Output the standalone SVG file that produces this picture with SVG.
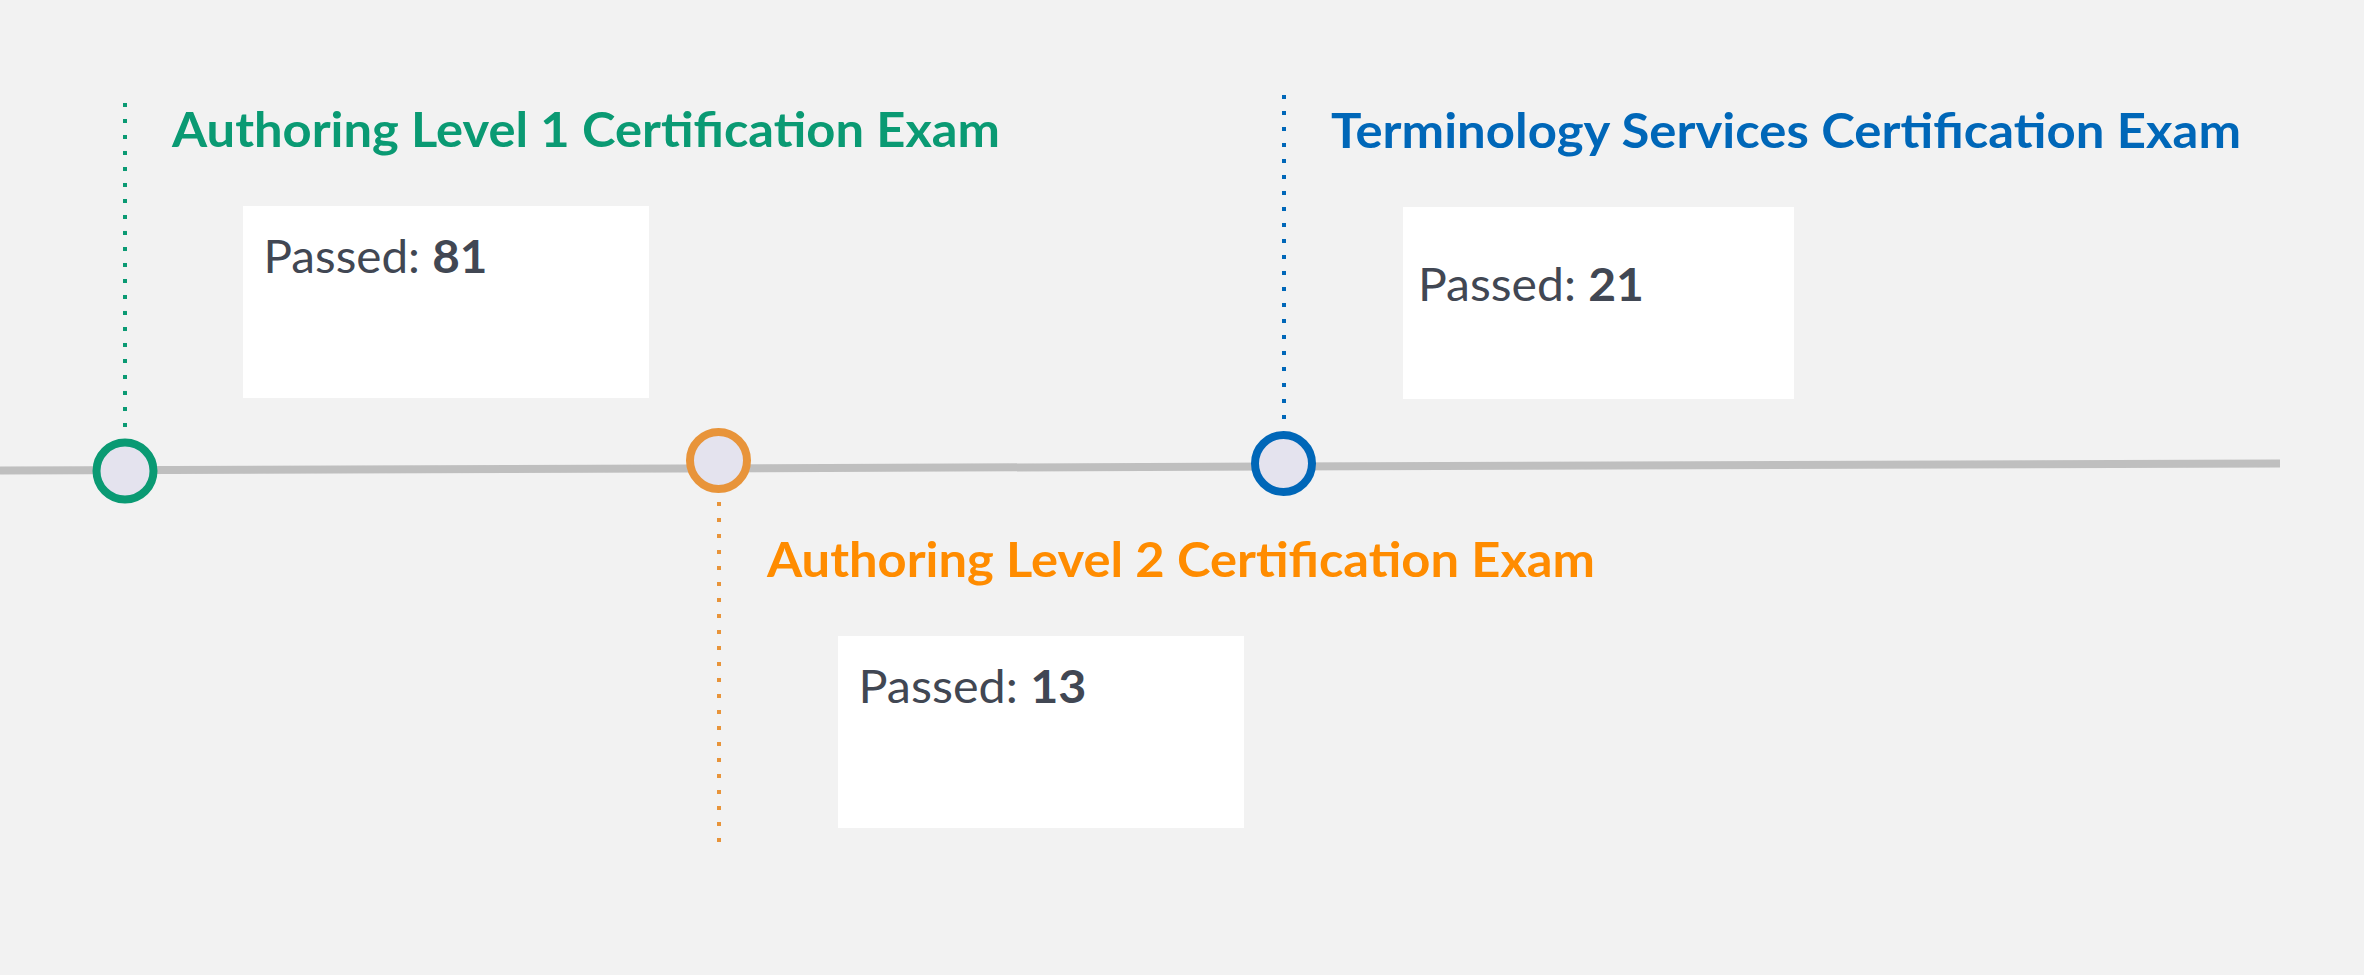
<svg xmlns="http://www.w3.org/2000/svg" width="2364" height="975" viewBox="0 0 2364 975">
<style>
.title{font-family:Lato,"Open Sans",sans-serif;font-weight:700;font-size:48px}
.pass{font-family:Lato,"Open Sans",sans-serif;font-size:46px;fill:#414753}
.num{font-weight:700}
.box{fill:#ffffff}
.dot{stroke-width:4;stroke-dasharray:4 12;fill:none}
.node{fill:#E4E3EE;stroke-width:8}
</style>
<rect width="2364" height="975" fill="#F2F2F2"/>
<g id="connectors">
<line x1="0" y1="470.5" x2="2280" y2="463.5" stroke="#BFBFBF" stroke-width="8"/>
<line class="dot" x1="125" y1="103" x2="125" y2="432" stroke="#0A9A73"/>
<line class="dot" x1="719" y1="502" x2="719" y2="842" stroke="#E8943A"/>
<line class="dot" x1="1284" y1="95" x2="1284" y2="425" stroke="#0067B8"/>
</g>
<g id="exam1">
<circle class="node" cx="125" cy="471" r="28.5" stroke="#0A9A73"/>
<text class="title" x="172" y="147" fill="#0A9A73" textLength="828" lengthAdjust="spacingAndGlyphs">Authoring Level 1 Certification Exam</text>
<rect class="box" x="243" y="206" width="406" height="192"/>
<text class="pass" x="263.5" y="273" textLength="224" lengthAdjust="spacingAndGlyphs">Passed: <tspan class="num">81</tspan></text>
</g>
<g id="exam2">
<circle class="node" cx="718.5" cy="460.5" r="28.5" stroke="#E8943A"/>
<text class="title" x="767" y="577" fill="#FF8C00" textLength="828" lengthAdjust="spacingAndGlyphs">Authoring Level 2 Certification Exam</text>
<rect class="box" x="838" y="636" width="406" height="192"/>
<text class="pass" x="858.5" y="703" textLength="228" lengthAdjust="spacingAndGlyphs">Passed: <tspan class="num">13</tspan></text>
</g>
<g id="exam3">
<circle class="node" cx="1283.5" cy="463.5" r="28.5" stroke="#0067B8"/>
<text class="title" x="1331" y="148" fill="#0067B8" textLength="910" lengthAdjust="spacingAndGlyphs">Terminology Services Certification Exam</text>
<rect class="box" x="1403" y="207" width="391" height="192"/>
<text class="pass" x="1418" y="301" textLength="226" lengthAdjust="spacingAndGlyphs">Passed: <tspan class="num">21</tspan></text>
</g>
</svg>
